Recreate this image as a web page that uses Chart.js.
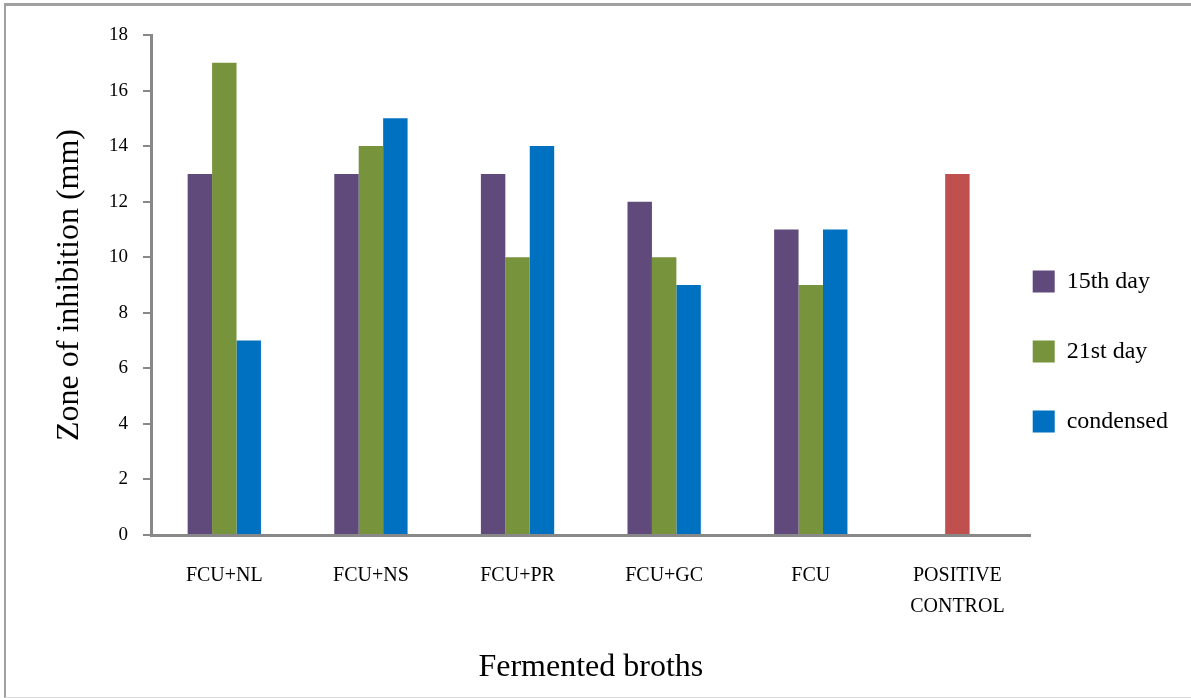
<!DOCTYPE html>
<html>
<head>
<meta charset="utf-8">
<script src="https://cdn.jsdelivr.net/npm/chart.js@4.4.1/dist/chart.umd.min.js"></script>
<style>
  html, body { margin: 0; padding: 0; background: #fff; overflow: hidden; width: 1191px; height: 698px; }
  #frame { position: absolute; left: 4px; top: 3px; width: 1400px; height: 695px;
           border-top: 3px solid #a0a0a0; border-left: 2px solid #a0a0a0;
           border-bottom: 1px solid #dadada; box-sizing: border-box; }
  #wrap { position: absolute; left: 0; top: 0; width: 1191px; height: 698px; }
</style>
</head>
<body>
<div id="frame"></div>
<div id="wrap"><canvas id="chart" width="1191" height="698"></canvas></div>
<script>
// Zone of inhibition (mm) for each fermented broth
const categories = ['FCU+NL', 'FCU+NS', 'FCU+PR', 'FCU+GC', 'FCU', ['POSITIVE', 'CONTROL']];
const day15 = [13, 13, 13, 12, 11, null];
const day21 = [17, 14, 10, 10, 9, null];
const condensed = [7, 15, 14, 9, 11, null];
const positiveControl = [null, null, null, null, null, 13];
const seriesNames = ['15th day', '21st day', 'condensed'];
const yTicks = [0, 2, 4, 6, 8, 10, 12, 14, 16, 18];

const AXIS_GREY = '#888888';
const SERIF = '"Liberation Serif", "Times New Roman", serif';

Chart.defaults.font.family = SERIF;
Chart.defaults.color = '#000';

new Chart(document.getElementById('chart'), {
  type: 'bar',
  data: {
    labels: categories,
    datasets: [
      { label: seriesNames[0], data: day15, backgroundColor: '#604A7B' },
      { label: seriesNames[1], data: day21, backgroundColor: '#77933C' },
      { label: seriesNames[2], data: condensed, backgroundColor: '#0070C0' },
      // control bar sits alone in the middle of its category, one bar wide
      { label: 'POSITIVE CONTROL', data: positiveControl, backgroundColor: '#C0504D',
        grouped: false, barPercentage: 1 / 3 }
    ]
  },
  options: {
    responsive: false,
    animation: false,
    categoryPercentage: 0.5,
    barPercentage: 1.0,
    borderWidth: 0,
    layout: { padding: { left: 10, top: 35, right: 13, bottom: -14 } },
    plugins: {
      tooltip: { enabled: false },
      legend: {
        position: 'right',
        align: 'center',
        labels: {
          boxWidth: 22,
          boxHeight: 22,
          padding: 2,
          color: '#000',
          font: { family: SERIF, size: 24, lineHeight: 68 / 24 },
          filter: (item) => item.datasetIndex < 3,
          generateLabels: (chart) =>
            Chart.defaults.plugins.legend.labels.generateLabels(chart)
              .map((item) => Object.assign(item, { text: [item.text] }))
        }
      }
    },
    scales: {
      x: {
        afterFit: (scale) => { scale.height = 177; },
        grid: { drawOnChartArea: false, drawTicks: false },
        border: { display: true, color: AXIS_GREY, width: 3 },
        ticks: {
          padding: 25,
          maxRotation: 0,
          autoSkip: false,
          color: '#000',
          font: { family: SERIF, size: 20, lineHeight: 1.55 }
        },
        title: {
          display: true,
          text: 'Fermented broths',
          color: '#000',
          font: { family: SERIF, size: 32 },
          padding: { top: 0, bottom: 25 }
        }
      },
      y: {
        min: 0,
        max: 18,
        afterFit: (scale) => { scale.width = 141; },
        afterBuildTicks: (scale) => { scale.ticks = yTicks.map((v) => ({ value: v })); },
        grid: { drawOnChartArea: false, drawTicks: true, tickLength: 8, color: AXIS_GREY, lineWidth: 2 },
        border: { display: true, color: AXIS_GREY, width: 3 },
        ticks: {
          padding: 15,
          color: '#000',
          font: { family: SERIF, size: 19 }
        },
        title: {
          display: true,
          text: 'Zone of inhibition (mm)',
          color: '#000',
          font: { family: SERIF, size: 32 },
          padding: { top: 40, bottom: 0 }
        }
      }
    }
  }
});
</script>
</body>
</html>
